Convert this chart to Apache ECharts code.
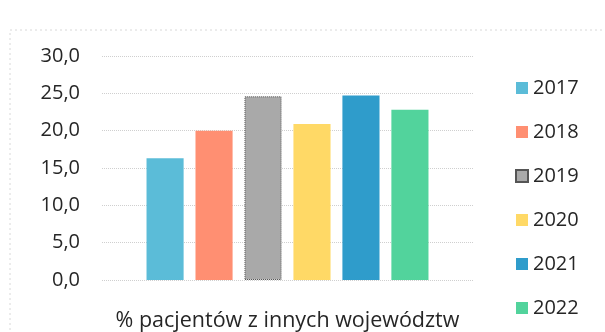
<!DOCTYPE html>
<html><head><meta charset="utf-8">
<script src="https://cdn.jsdelivr.net/npm/echarts@6/dist/echarts.min.js"></script>
<style>html,body{margin:0;padding:0;background:#fff}#c{width:605px;height:332px}</style>
</head><body><div id="c"></div>
<script>
const categories = ['% pacjentów z innych województw'];
const years = ['2017','2018','2019','2020','2021','2022'];
const values = [16.3, 20.0, 24.6, 20.9, 24.7, 22.8];
const colors = ['#5bbcd8','#ff8f72','#a9a9a9','#ffd966','#2f9ccb','#52d39c'];
const yTicks = {min:0, max:30, interval:5};

const chart = echarts.init(document.getElementById('c'));
const FONT = 'Open Sans';
chart.setOption({
  animation:false,
  textStyle:{fontFamily:FONT},
  graphic:[{type:'rect',shape:{x:10,y:30,width:600,height:310},style:{fill:'none',stroke:'#d8d8d8',lineWidth:1,lineDash:[2,3]},silent:true}],
  grid:{left:102,right:132,top:56,bottom:52},
  legend:{orient:'vertical',left:510,top:73,itemWidth:12,itemHeight:12,itemGap:24,
    icon:'rect',textStyle:{fontSize:20,color:'#262626',fontFamily:FONT},
    data:years},
  xAxis:{type:'category',data:categories,axisLine:{show:false},axisTick:{show:false},
    axisLabel:{fontSize:21.5,color:'#262626',margin:30,fontFamily:FONT}},
  yAxis:{type:'value',min:yTicks.min,max:yTicks.max,interval:yTicks.interval,
    axisLabel:{fontSize:20,color:'#262626',margin:22,fontFamily:FONT,formatter:v=>v.toFixed(1).replace('.',',')},
    splitLine:{lineStyle:{color:'#cfcfcf',type:'dotted'}},axisLine:{show:false},axisTick:{show:false}},
  series: years.map((y,i)=>({
    name:y,type:'bar',data:[values[i]],barGap:'32%',barCategoryGap:'24%',
    itemStyle: i===2 ? {color:colors[i],borderColor:'#555',borderWidth:1,borderType:'dotted'} : {color:colors[i]}
  }))
});
</script></body></html>
